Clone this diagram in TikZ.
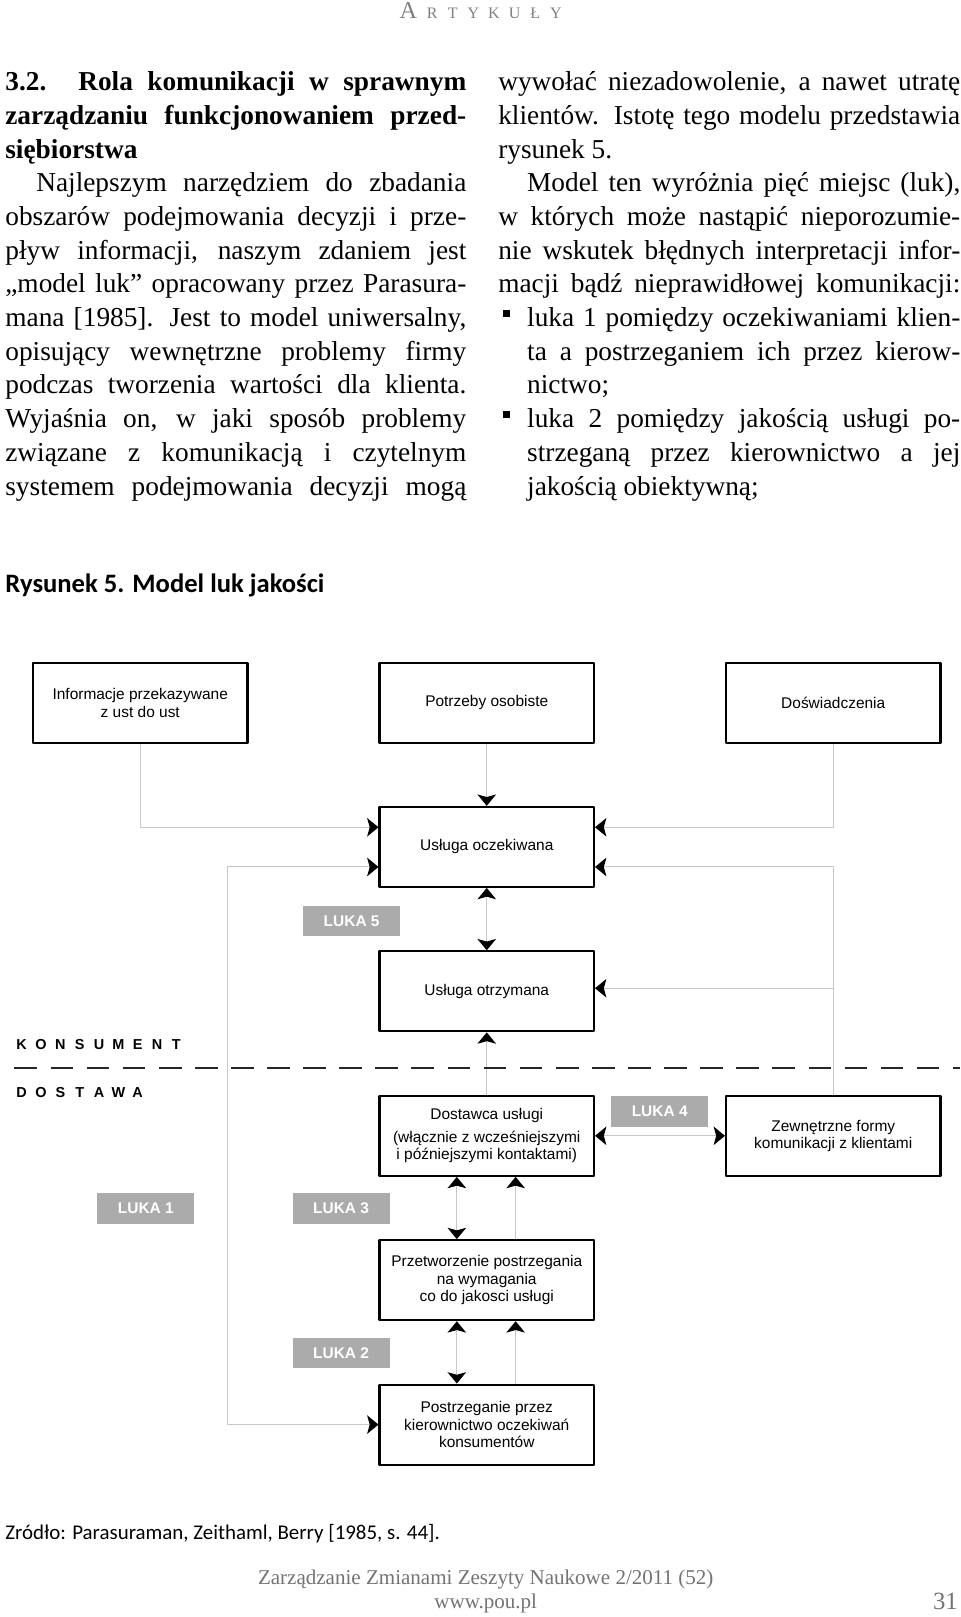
\documentclass[tikz,border=0pt]{standalone}
\usepackage{fontspec}
\setmainfont{Liberation Serif}
\newfontfamily\schemat{Liberation Sans}
\newfontfamily\podpis{Carlito}
\usetikzlibrary{arrows.meta}
\tikzset{
blok/.style={draw, line width=2pt, minimum width=208pt, minimum height=77.6pt, inner sep=0pt, align=center, font=\schemat\fontsize{15}{17}\selectfont},
luka/.style={fill=black!33, text=white, minimum width=94pt, minimum height=29.5pt, inner sep=0pt, font=\schemat\bfseries\fontsize{15}{17}\selectfont},
lacz/.style={draw=black!22, line width=1pt},
tekst/.style={anchor=base west, inner sep=0pt, font=\fontsize{26.5}{32.67}\selectfont},
strona/.style={anchor=base, inner sep=0pt, text=black!55, font=\fontsize{20.4}{24}\selectfont},
}
\begin{document}
\begin{tikzpicture}[x=1pt, y=-1pt, line join=round, >={Stealth[length=11pt, width=18pt, inset=2.5pt, color=black]}]
\fill[white] (0,0) rectangle (931,1568);
\useasboundingbox (0,0) rectangle (931,1568);
%naglowek
\foreach \l/\x/\s [count=\i] in {A/396/23.5, R/419/15.5, T/439/15.5, Y/459/15.5, K/479/15.5, U/499/15.5, Ł/519/15.5, Y/539/15.5}
\node[anchor=base, inner sep=0pt, text=black!50, font=\fontsize{\s}{\s}\selectfont] (h\i) at (\x,18) {\l};
%lewa kolumna
\node[tekst, font=\bfseries\fontsize{26.5}{32.67}\selectfont] (t0) at (5,88) {\makebox[447pt][s]{3.2. Rola komunikacji w sprawnym}};
\node[tekst, font=\bfseries\fontsize{26.5}{32.67}\selectfont] (t1) at (5,120.67) {\makebox[447pt][s]{zarządzaniu funkcjonowaniem przed-}};
\node[tekst, font=\bfseries\fontsize{26.5}{32.67}\selectfont] (t2) at (5,153.34) {siębiorstwa};
\node[tekst] (t3) at (35,186) {\makebox[417pt][s]{Najlepszym narzędziem do zbadania}};
\foreach \t [count=\i from 4] in {{obszarów podejmowania decyzji i prze-}, {pływ informacji, naszym zdaniem jest}, {„model luk” opracowany przez Parasura-}, {mana [1985]. Jest to model uniwersalny,}, {opisujący wewnętrzne problemy firmy}, {podczas tworzenia wartości dla klienta.}, {Wyjaśnia on, w jaki sposób problemy}, {związane z komunikacją i czytelnym}, {systemem podejmowania decyzji mogą}}
\node[tekst] (t\i) at (5,88+32.67*\i) {\makebox[447pt][s]{\t}};
%prawa kolumna
\node[tekst] (r0) at (483,88) {\makebox[448pt][s]{wywołać niezadowolenie, a nawet utratę}};
\node[tekst] (r1) at (483,120.67) {\makebox[448pt][s]{klientów. Istotę tego modelu przedstawia}};
\node[tekst] (r2) at (483,153.34) {rysunek 5.};
\node[tekst] (r3) at (511,186) {\makebox[420pt][s]{Model ten wyróżnia pięć miejsc (luk),}};
\foreach \t [count=\i from 4] in {{w których może nastąpić nieporozumie-}, {nie wskutek błędnych interpretacji infor-}, {macji bądź nieprawidłowej komunikacji:}}
\node[tekst] (r\i) at (483,88+32.67*\i) {\makebox[448pt][s]{\t}};
\foreach \t [count=\i from 7] in {{luka 1 pomiędzy oczekiwaniami klien-}, {ta a postrzeganiem ich przez kierow-}}
\node[tekst] (r\i) at (511,88+32.67*\i) {\makebox[420pt][s]{\t}};
\node[tekst] (r9) at (511,382) {nictwo;};
\foreach \t [count=\i from 10] in {{luka 2 pomiędzy jakością usługi po-}, {strzeganą przez kierownictwo a jej}}
\node[tekst] (r\i) at (511,88+32.67*\i) {\makebox[420pt][s]{\t}};
\node[tekst] (r12) at (511,480) {jakością obiektywną;};
\foreach \i in {7,10}
\fill ([xshift=-23pt, yshift=9pt]r\i.base west) rectangle +(7,-7);
%rysunek
\node[anchor=base west, inner sep=0pt, font=\podpis\bfseries\fontsize{25.8}{30}\selectfont] (tyt) at (5,575) {Rysunek 5. Model luk jakości};
\path (136,681.5) node[blok] (b1) {Informacje przekazywane\\z ust do ust}
(472,681.5) node[blok] (b2) {Potrzeby osobiste}
(808,681.5) node[blok] (b3) {Doświadczenia}
(472,821.2) node[blok] (b4) {Usługa oczekiwana}
(472,961.3) node[blok] (b5) {Usługa otrzymana}
(472,1101.4) node[blok] (b6) {Dostawca usługi\\[5pt](włącznie z wcześniejszymi\\i późniejszymi kontaktami)}
(808,1101.4) node[blok] (b7) {Zewnętrzne formy\\komunikacji z klientami}
(472,1241.4) node[blok] (b8) {Przetworzenie postrzegania\\na wymagania\\co do jakosci usługi}
(472,1381.4) node[blok] (b9) {Postrzeganie przez\\kierownictwo oczekiwań\\konsumentów};
\path (341,893) node[luka] (l5) {LUKA 5}
(141.4,1172) node[luka] (l1) {LUKA 1}
(330.8,1172) node[luka] (l3) {LUKA 3}
(639.7,1078) node[luka] (l4) {LUKA 4}
(330.8,1312.2) node[luka] (l2) {LUKA 2};
\coordinate (x1) at (221,0);
%polaczenia
\draw[lacz,->] (b1.south) |- ([yshift=19pt]b4.west);
\draw[lacz,->] (b2.south) -- (b4.north);
\draw[lacz,->] (b3.south) |- ([yshift=19pt]b4.east);
\draw[lacz,<->] ([yshift=-19.5pt]b4.west) -| (x1 |- b9.west) -- (b9.west);
\draw[lacz,->] (b7.north) |- ([yshift=-19.5pt]b4.east);
\draw[lacz,->] (b7.north |- b5.east) ++(0,-3) -- ([yshift=3pt]b5.east);
\draw[lacz,<->] (b4.south) -- (b5.north);
\draw[lacz,->] (b6.north) -- (b5.south);
\draw[lacz,<->] (b6.east) -- (b7.west);
\draw[lacz,<->] ([xshift=-29pt]b6.south) -- ([xshift=-29pt]b8.north);
\draw[lacz,->] ([xshift=28pt]b8.north) -- ([xshift=28pt]b6.south);
\draw[lacz,<->] ([xshift=-29pt]b8.south) -- ([xshift=-29pt]b9.north);
\draw[lacz,->] ([xshift=28pt]b9.north) -- ([xshift=28pt]b8.south);
%konsument / dostawa
\draw[line width=2pt, black!85, dash pattern=on 22pt off 13pt] (14,1035.5) -- (931,1035.5);
\foreach \l [count=\i from 0] in {K,O,N,S,U,M,E,N,T}
\node[anchor=base, inner sep=0pt, font=\schemat\bfseries\fontsize{14}{14}\selectfont] (k\i) at (21+18.75*\i,1017.5) {\l};
\foreach \l [count=\i from 0] in {D,O,S,T,A,W,A}
\node[anchor=base, inner sep=0pt, font=\schemat\bfseries\fontsize{14}{14}\selectfont] (d\i) at (21+18.75*\i,1064.5) {\l};
%zrodlo i stopka
\node[anchor=base west, inner sep=0pt, font=\podpis\fontsize{20.3}{24}\selectfont] (zr) at (5,1493) {Zródło: Parasuraman, Zeithaml, Berry [1985, s. 44].};
\node[strona] (s1) at (471,1536) {Zarządzanie Zmianami Zeszyty Naukowe 2/2011 (52)};
\node[strona] (s2) at (471,1560) {www.pou.pl};
\node[strona, anchor=base east, font=\fontsize{24}{24}\selectfont] (s3) at (929,1561) {31};
\end{tikzpicture}
\end{document}
